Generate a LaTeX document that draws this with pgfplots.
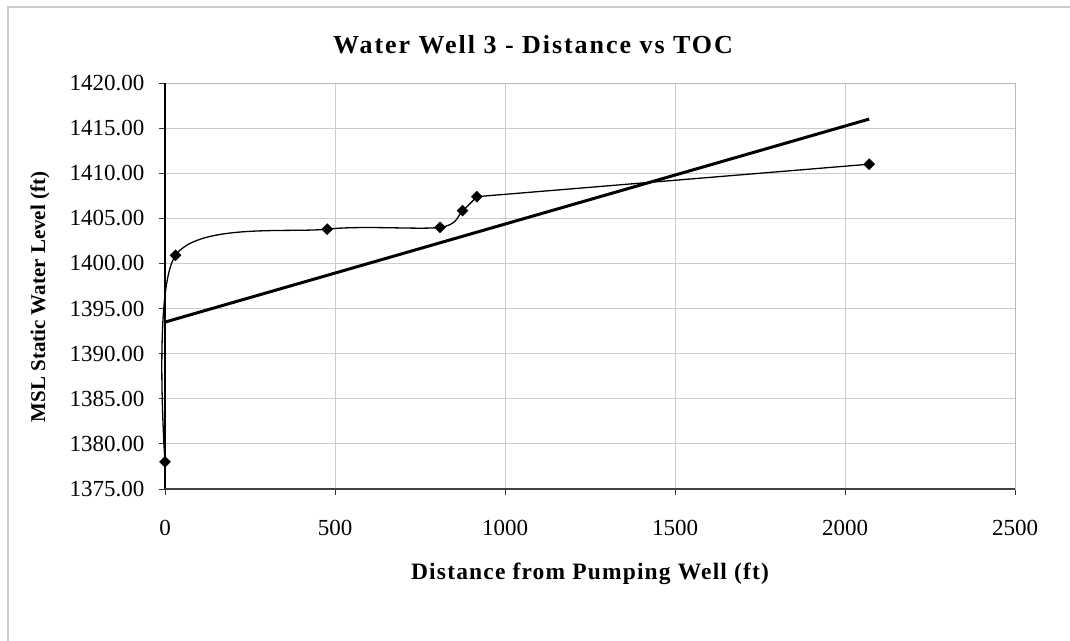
\documentclass[border=0pt]{standalone}
\usepackage{fontspec}
\setmainfont{Liberation Serif}
\usepackage{pgfplots}
\pgfplotsset{compat=1.18}
\begin{document}
\begin{tikzpicture}[x=1pt,y=1pt]
\useasboundingbox (0,0) rectangle (1070,640);
\fill[white] (0,0) rectangle (1070,640);
\draw[gray!40, line width=1.2pt] (8,-5) -- (8,633) -- (1075,633);
\begin{axis}[
  at={(165pt,151pt)}, anchor=south west,
  scale only axis, width=850pt, height=406pt,
  xmin=0, xmax=2500, ymin=1375, ymax=1420,
  xtick={0,500,1000,1500,2000,2500},
  ytick={1375,1380,1385,1390,1395,1400,1405,1410,1415,1420},
  grid=major, grid style={gray!40, line width=0.9pt},
  axis line style={gray!55, line width=0.9pt},
  xtick pos=bottom, ytick pos=left,
  tick align=outside, major tick length=6pt,
  tick style={black!80, line width=0.8pt},
  clip=false,
  /pgf/number format/assume math mode=true,
  every tick label/.append style={font=\fontsize{23}{23}\selectfont},
  yticklabel style={xshift=-11pt, /pgf/number format/.cd, fixed, fixed zerofill, precision=2, 1000 sep={}},
  xticklabel style={yshift=-22pt, /pgf/number format/.cd, 1000 sep={}},
]
\draw[black, line width=1.4pt] (axis cs:0,1375) -- (axis cs:0,1420);
\draw[black!75, line width=1.2pt] (axis cs:0,1375) -- (axis cs:2500,1375);
% smoothed series (drawn in two pieces to avoid a loop at the long last segment)
\addplot[black, line width=1.3pt, smooth, no marks]
  coordinates {(0,1378.0)(31,1400.9)(477,1403.8)(809,1404.0)(875,1405.85)(917,1407.4)};
\addplot[black, line width=1.3pt, smooth, no marks]
  coordinates {(917,1407.4)(2071,1411.0)};
% markers
\addplot[only marks, mark=square*, mark size=3.9pt,
  mark options={rotate=45, solid, fill=black, draw=black}]
  coordinates {(0,1378.0)(31,1400.9)(477,1403.8)(809,1404.0)(875,1405.85)(917,1407.4)(2071,1411.0)};
% linear trendline
\addplot[black, line width=3pt, no marks]
  coordinates {(0,1393.5)(2071,1416.0)};
\end{axis}
\node[font=\fontsize{26}{26}\selectfont\bfseries\addfontfeature{LetterSpace=7.5}] at (533,595) {Water Well 3 - Distance vs TOC};
\node[font=\fontsize{23.5}{23.5}\selectfont\bfseries\addfontfeature{LetterSpace=5}] at (590,66) {Distance from Pumping Well (ft)};
\node[font=\fontsize{21}{21}\selectfont\bfseries, rotate=90] at (40,343) {MSL Static Water Level (ft)};
\end{tikzpicture}
\end{document}
